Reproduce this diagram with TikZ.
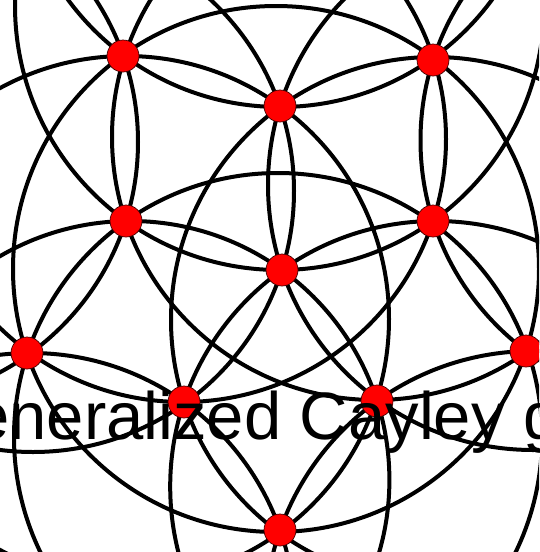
\documentclass[tikz,border=0pt]{standalone}
\usepackage{fontspec}
\setmainfont{Liberation Sans}
\begin{document}
\begin{tikzpicture}[x=1pt,y=-1pt,
  ring/.style={line width=4pt, draw=black},
  vertex/.style={circle, fill=red, draw=black!75!red, line width=0.7pt, minimum size=32pt, inner sep=0pt},
  caption/.style={anchor=base west, inner sep=0pt, font=\fontsize{67}{80}\selectfont}]
\useasboundingbox (0,0) rectangle (539,552);
\begin{scope}
\clip (0,0) rectangle (539,552);
\fill[white] (0,0) rectangle (539,552);
\draw[ring] (276,269) circle[radius=263pt];
\draw[ring] (280,-156) circle[radius=263pt];
\draw[ring] (126,319) circle[radius=263pt];
\draw[ring] (434,320) circle[radius=263pt];
\draw[ring] (375,137) circle[radius=263pt];
\draw[ring] (183,139) circle[radius=263pt];
\draw[ring] (-123,142) circle[radius=261pt];
\draw[ring] (683,140.5) circle[radius=262.5pt];
\draw[ring] (533,185) circle[radius=265pt];
\draw[ring] (33,191) circle[radius=261pt];
\draw[ring] (278,437) circle[radius=264pt];
\draw[ring] (279.5,5.5) circle[radius=264.5pt];
\draw[ring] (130.4,480) circle[radius=259pt];
\draw[ring] (435.7,486.5) circle[radius=265.5pt];
\draw[ring] (30.8,617) circle[radius=264pt];
\draw[ring] (533,619) circle[radius=268pt];
\node[vertex] (A) at (123,56) {};
\node[vertex] (B) at (433,60) {};
\node[vertex] (C) at (280,106) {};
\node[vertex] (D) at (126,221) {};
\node[vertex] (E) at (433,221) {};
\node[vertex] (F) at (282,270) {};
\node[vertex] (G) at (27,353) {};
\node[vertex] (H) at (184,402) {};
\node[vertex] (I) at (377,401) {};
\node[vertex] (J) at (526,351) {};
\node[vertex] (K) at (280,530) {};
\node[caption] (title) at (-80,439) {Generalized Cayley graph};
\end{scope}
\end{tikzpicture}
\end{document}
